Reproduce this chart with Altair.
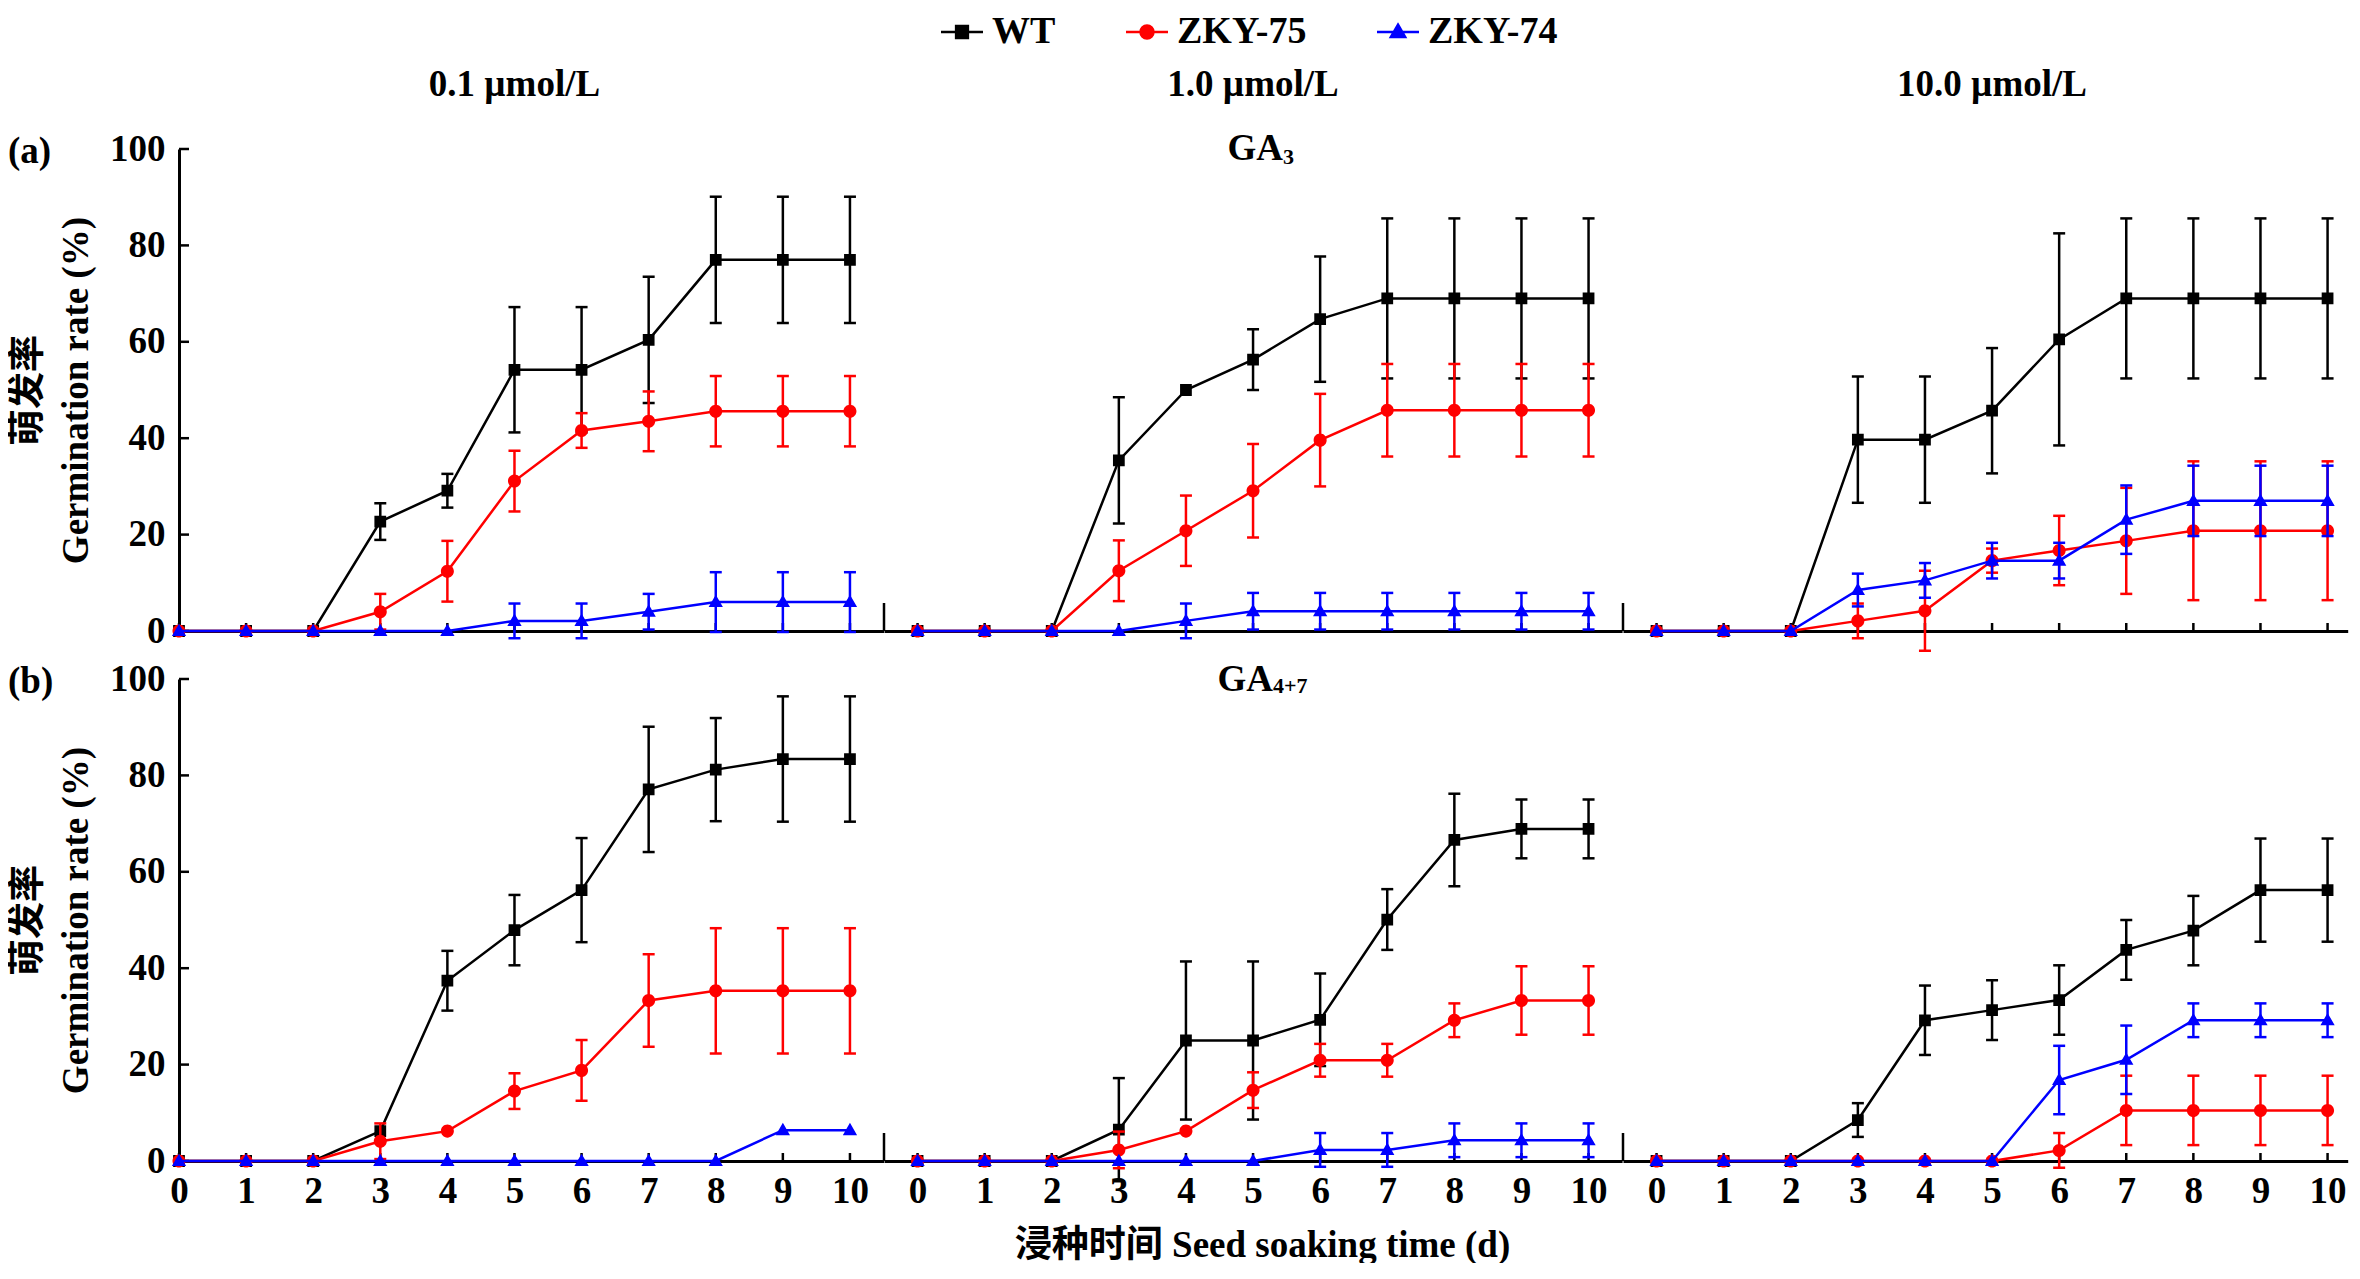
import altair as alt
import pandas as pd

# ---------------- data ----------------
days = list(range(11))
series_names = ["WT", "ZKY-75", "ZKY-74"]
series_colors = ["#000000", "#ff0000", "#0000ff"]
conc_labels = ["0.1 µmol/L", "1.0 µmol/L", "10.0 µmol/L"]
row_tags = ["(a)", "(b)"]
ga_names = ["GA", "GA"]
ga_subs = ["3", "4+7"]
x_tick_values = list(range(11))
y_tick_values = [0, 20, 40, 60, 80, 100]
x_title = "浸种时间 Seed soaking time (d)"
y_title = ["萌发率", "Germination rate (%)"]

# (a) GA3, 0.1 umol/L
ga3_c01_wt = [0, 0, 0, 22.7, 29.1, 54.2, 54.2, 60.4, 77.0, 77.0, 77.0]
ga3_c01_wt_sd = [0, 0, 0, 3.8, 3.5, 13.0, 13.0, 13.1, 13.1, 13.1, 13.1]
ga3_c01_z75 = [0, 0, 0, 4.0, 12.4, 31.1, 41.6, 43.5, 45.6, 45.6, 45.6]
ga3_c01_z75_sd = [0, 0, 0, 3.7, 6.3, 6.3, 3.6, 6.2, 7.3, 7.3, 7.3]
ga3_c01_z74 = [0, 0, 0, 0, 0, 2.1, 2.1, 4.0, 6.0, 6.0, 6.0]
ga3_c01_z74_sd = [0, 0, 0, 0, 0, 3.6, 3.6, 3.7, 6.2, 6.2, 6.2]
# (a) GA3, 1.0 umol/L
ga3_c1_wt = [0, 0, 0, 35.4, 50.0, 56.3, 64.7, 69.0, 69.0, 69.0, 69.0]
ga3_c1_wt_sd = [0, 0, 0, 13.1, 0, 6.3, 13.0, 16.6, 16.6, 16.6, 16.6]
ga3_c1_z75 = [0, 0, 0, 12.5, 20.8, 29.1, 39.6, 45.8, 45.8, 45.8, 45.8]
ga3_c1_z75_sd = [0, 0, 0, 6.3, 7.3, 9.7, 9.6, 9.6, 9.6, 9.6, 9.6]
ga3_c1_z74 = [0, 0, 0, 0, 2.1, 4.1, 4.1, 4.1, 4.1, 4.1, 4.1]
ga3_c1_z74_sd = [0, 0, 0, 0, 3.6, 3.8, 3.8, 3.8, 3.8, 3.8, 3.8]
# (a) GA3, 10.0 umol/L
ga3_c10_wt = [0, 0, 0, 39.7, 39.7, 45.7, 60.5, 69.0, 69.0, 69.0, 69.0]
ga3_c10_wt_sd = [0, 0, 0, 13.1, 13.1, 13.0, 22.0, 16.6, 16.6, 16.6, 16.6]
ga3_c10_z75 = [0, 0, 0, 2.1, 4.2, 14.6, 16.7, 18.7, 20.8, 20.8, 20.8]
ga3_c10_z75_sd = [0, 0, 0, 3.6, 8.3, 2.5, 7.2, 11.0, 14.4, 14.4, 14.4]
ga3_c10_z74 = [0, 0, 0, 8.5, 10.5, 14.6, 14.6, 23.1, 27.0, 27.0, 27.0]
ga3_c10_z74_sd = [0, 0, 0, 3.4, 3.6, 3.7, 3.7, 7.1, 7.3, 7.3, 7.3]
# (b) GA4+7, 0.1 umol/L
ga47_c01_wt = [0, 0, 0, 6.2, 37.4, 47.9, 56.2, 77.1, 81.2, 83.4, 83.4]
ga47_c01_wt_sd = [0, 0, 0, 0, 6.2, 7.3, 10.8, 13.0, 10.7, 13.0, 13.0]
ga47_c01_z75 = [0, 0, 0, 4.1, 6.2, 14.5, 18.8, 33.3, 35.3, 35.3, 35.3]
ga47_c01_z75_sd = [0, 0, 0, 3.7, 0, 3.7, 6.3, 9.6, 13.0, 13.0, 13.0]
ga47_c01_z74 = [0, 0, 0, 0, 0, 0, 0, 0, 0, 6.4, 6.4]
ga47_c01_z74_sd = [0, 0, 0, 0, 0, 0, 0, 0, 0, 0, 0]
# (b) GA4+7, 1.0 umol/L
ga47_c1_wt = [0, 0, 0, 6.5, 25.0, 25.0, 29.3, 50.1, 66.6, 68.9, 68.9]
ga47_c1_wt_sd = [0, 0, 0, 10.7, 16.4, 16.4, 9.6, 6.3, 9.6, 6.1, 6.1]
ga47_c1_z75 = [0, 0, 0, 2.3, 6.2, 14.7, 20.9, 20.9, 29.2, 33.3, 33.3]
ga47_c1_z75_sd = [0, 0, 0, 3.8, 0, 3.7, 3.4, 3.4, 3.5, 7.1, 7.1]
ga47_c1_z74 = [0, 0, 0, 0, 0, 0, 2.3, 2.3, 4.3, 4.3, 4.3]
ga47_c1_z74_sd = [0, 0, 0, 0, 0, 0, 3.5, 3.5, 3.5, 3.5, 3.5]
# (b) GA4+7, 10.0 umol/L
ga47_c10_wt = [0, 0, 0, 8.5, 29.2, 31.3, 33.4, 43.8, 47.8, 56.2, 56.2]
ga47_c10_wt_sd = [0, 0, 0, 3.5, 7.2, 6.2, 7.2, 6.2, 7.2, 10.7, 10.7]
ga47_c10_z75 = [0, 0, 0, 0, 0, 0, 2.2, 10.5, 10.5, 10.5, 10.5]
ga47_c10_z75_sd = [0, 0, 0, 0, 0, 0, 3.6, 7.2, 7.2, 7.2, 7.2]
ga47_c10_z74 = [0, 0, 0, 0, 0, 0, 16.8, 21.0, 29.2, 29.2, 29.2]
ga47_c10_z74_sd = [0, 0, 0, 0, 0, 0, 7.1, 7.1, 3.5, 3.5, 3.5]

panels_data = {
    (0, 0): [(ga3_c01_wt, ga3_c01_wt_sd), (ga3_c01_z75, ga3_c01_z75_sd), (ga3_c01_z74, ga3_c01_z74_sd)],
    (0, 1): [(ga3_c1_wt, ga3_c1_wt_sd), (ga3_c1_z75, ga3_c1_z75_sd), (ga3_c1_z74, ga3_c1_z74_sd)],
    (0, 2): [(ga3_c10_wt, ga3_c10_wt_sd), (ga3_c10_z75, ga3_c10_z75_sd), (ga3_c10_z74, ga3_c10_z74_sd)],
    (1, 0): [(ga47_c01_wt, ga47_c01_wt_sd), (ga47_c01_z75, ga47_c01_z75_sd), (ga47_c01_z74, ga47_c01_z74_sd)],
    (1, 1): [(ga47_c1_wt, ga47_c1_wt_sd), (ga47_c1_z75, ga47_c1_z75_sd), (ga47_c1_z74, ga47_c1_z74_sd)],
    (1, 2): [(ga47_c10_wt, ga47_c10_wt_sd), (ga47_c10_z75, ga47_c10_z75_sd), (ga47_c10_z74, ga47_c10_z74_sd)],
}

rows = []
for (r, c), series_list in panels_data.items():
    for s, (means, sds) in zip(series_names, series_list):
        for d, m, sd in zip(days, means, sds):
            rows.append(dict(row=r, col=c, series=s, day=d, mean=m, sd=sd, lo=m - sd, hi=m + sd))
df = pd.DataFrame(rows)

# ---------------- styling ----------------
FONT = "Liberation Serif"
FONT_CJK = "'Liberation Serif', 'Noto Sans CJK SC'"
FS = 37
UNIT = 67.1           # pixels per day
H = 482               # plot height
x_domains = [[0, 10.5], [-0.5, 10.5], [-0.5, 10.3]]
LW = 2.5

# legend symbols: marker plus a line segment (segment only visible in legend)
shape_paths = [
    "M-3,0H3M-0.84,-0.84H0.84V0.84H-0.84Z",
    "M-3,0H3M-0.93,0A0.93,0.93,0,1,0,0.93,0A0.93,0.93,0,1,0,-0.93,0Z",
    "M-3,0H3M0,-1.05L1.02,0.72L-1.02,0.72Z",
]

legend = alt.Legend(
    title=None, orient="none", legendX=764, legendY=-136, direction="horizontal",
    labelFont=FONT, labelFontSize=38, labelFontWeight="bold", labelColor="black",
    symbolSize=196, symbolStrokeWidth=2.5, symbolFillColor="black",
    labelOffset=11, columnPadding=65, padding=0,
)
fill_scale = alt.Scale(domain=series_names, range=series_colors)
stroke_scale = alt.Scale(domain=series_names, range=series_colors)
shape_scale = alt.Scale(domain=series_names, range=shape_paths)

x_center = (days[0] + days[-1]) / 2


def panel(r, c):
    lo, hi = x_domains[c]
    W = round((hi - lo) * UNIT, 1)
    xs = alt.Scale(domain=[lo, hi], nice=False, zero=False)
    ys = alt.Scale(domain=[0, 100], nice=False, zero=False)
    xkw = dict(values=x_tick_values, labels=(r == 1), labelPadding=12,
               labelFlush=False, labelOverlap=False)
    if r == 1 and c == 1:
        xkw.update(title=x_title, titlePadding=18, titleX=W / 2 + 9)
    else:
        xkw["title"] = None
    xa = alt.Axis(**xkw)
    if c == 0:
        ya = alt.Axis(values=y_tick_values, title=y_title, labelPadding=14,
                      titlePadding=14, titleLineHeight=48, labelFlush=False)
    else:
        ya = None

    def X(f):
        return alt.X(f, type="quantitative", scale=xs, axis=xa)

    def Y(f):
        return alt.Y(f, type="quantitative", scale=ys, axis=ya)

    layers = []
    # inward x ticks
    tdf = pd.DataFrame({"t": x_tick_values})
    layers.append(alt.Chart(tdf).mark_tick(orient="vertical", color="black", size=8,
                                           thickness=LW, opacity=1)
                  .encode(x=X("t"), y=alt.value(H - 4)))
    if c == 0:
        ydf = pd.DataFrame({"v": y_tick_values})
        layers.append(alt.Chart(ydf).mark_tick(orient="horizontal", color="black", size=10,
                                               thickness=LW, opacity=1)
                      .encode(y=Y("v"), x=alt.value(5)))
    else:
        sdf = pd.DataFrame({"s": [lo]})
        layers.append(alt.Chart(sdf).mark_rule(color="black", strokeWidth=LW)
                      .encode(x=X("s"), y=alt.value(H), y2=alt.value(H - 28)))

    sub = df[(df.row == r) & (df.col == c)]
    for s, col in zip(series_names, series_colors):
        ss = sub[sub.series == s]
        eb = ss[ss.sd > 0]
        if len(eb):
            ebc = alt.Chart(eb)
            layers.append(ebc.mark_rule(color=col, strokeWidth=LW)
                          .encode(x=X("day"), y=Y("lo"), y2="hi"))
            layers.append(ebc.mark_tick(color=col, orient="horizontal", size=12,
                                        thickness=LW, opacity=1)
                          .encode(x=X("day"), y=Y("lo")))
            layers.append(ebc.mark_tick(color=col, orient="horizontal", size=12,
                                        thickness=LW, opacity=1)
                          .encode(x=X("day"), y=Y("hi")))
        base = alt.Chart(ss)
        layers.append(base.mark_line(color=col, strokeWidth=LW).encode(x=X("day"), y=Y("mean")))
        layers.append(base.mark_point(filled=True, size=196, opacity=1).encode(
            x=X("day"), y=Y("mean"),
            fill=alt.Fill("series:N", scale=fill_scale, legend=legend),
            stroke=alt.Stroke("series:N", scale=stroke_scale, legend=legend),
            shape=alt.Shape("series:N", scale=shape_scale, legend=legend),
            strokeWidth=alt.value(0),
        ))

    # annotations
    if r == 0:
        tdf2 = pd.DataFrame({"label": [conc_labels[c]], "xc": [x_center]})
        layers.append(alt.Chart(tdf2).mark_text(font=FONT, fontSize=FS, fontWeight="bold",
                                                color="black", align="center",
                                                baseline="alphabetic")
                      .encode(x=X("xc"), y=alt.value(-53), text="label:N"))
    if c == 0:
        rdf = pd.DataFrame({"label": [row_tags[r]]})
        layers.append(alt.Chart(rdf).mark_text(font=FONT, fontSize=FS, fontWeight="bold",
                                               color="black", align="left", baseline="middle")
                      .encode(x=alt.value(-171), y=alt.value(3), text="label:N"))
    if c == 1:
        gdf = pd.DataFrame({"main": [ga_names[r]], "sub": [ga_subs[r]], "xc": [x_center]})
        dx = 30 if r == 0 else 20
        layers.append(alt.Chart(gdf).mark_text(font=FONT, fontSize=FS, fontWeight="bold",
                                               color="black", align="right",
                                               baseline="alphabetic", dx=dx)
                      .encode(x=X("xc"), y=alt.value(11 if r == 0 else 12), text="main:N"))
        layers.append(alt.Chart(gdf).mark_text(font=FONT, fontSize=22, fontWeight="bold",
                                               color="black", align="left",
                                               baseline="alphabetic", dx=dx)
                      .encode(x=X("xc"), y=alt.value(15 if r == 0 else 14), text="sub:N"))

    return alt.layer(*layers).properties(width=W, height=H)


chart = alt.concat(
    *[panel(r, c) for r in range(2) for c in range(3)],
    columns=3, spacing={"row": 48, "column": 0}, bounds="flush", align="each",
).properties(
    padding={"left": 0, "top": 5, "right": 0, "bottom": 0}
).configure_view(stroke=None).configure_axis(
    labelFont=FONT, labelFontSize=FS, labelFontWeight="bold", labelColor="black",
    titleFont=FONT_CJK, titleFontSize=FS, titleFontWeight="bold", titleColor="black",
    domainColor="black", domainWidth=3, grid=False, ticks=False, tickSize=0,
)

chart.save("out.html", embed_options={"renderer": "svg", "actions": False})
